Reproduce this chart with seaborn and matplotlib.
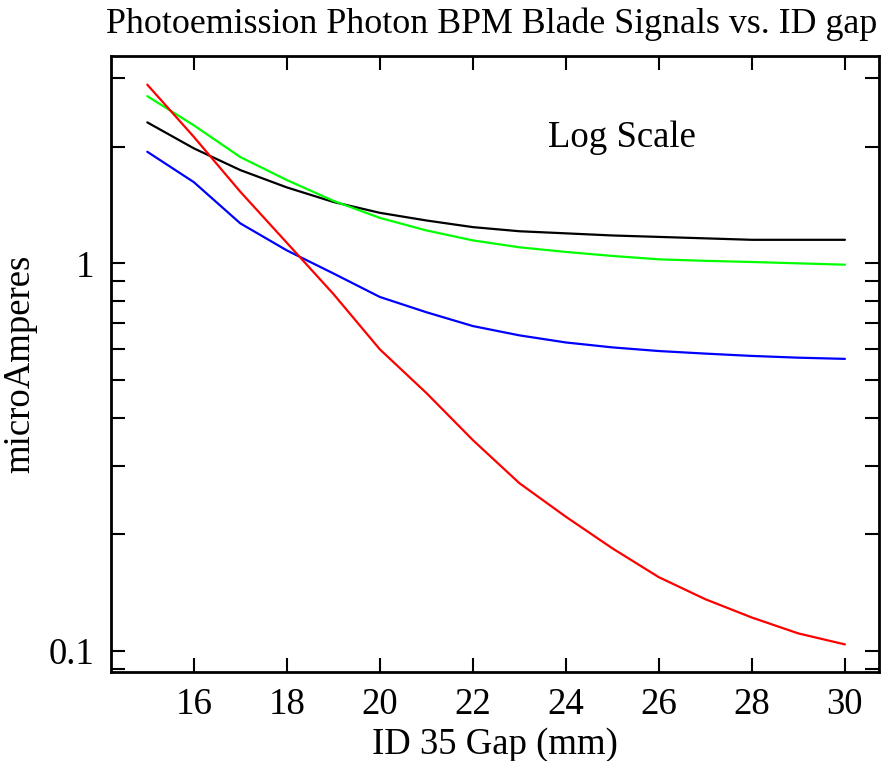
import pandas as pd
import seaborn as sns
import matplotlib.pyplot as plt
from matplotlib.ticker import LogLocator, FixedLocator, NullFormatter

# ID gap values (mm)
gap = [15, 16, 17, 18, 19, 20, 21, 22, 23, 24, 25, 26, 27, 28, 29, 30]

# blade signals (microAmperes)
black = [2.31, 1.98, 1.74, 1.57, 1.44, 1.35, 1.29, 1.24, 1.21, 1.195, 1.18, 1.17, 1.16, 1.15, 1.15, 1.15]
green = [2.70, 2.27, 1.88, 1.64, 1.45, 1.31, 1.216, 1.146, 1.10, 1.07, 1.045, 1.024, 1.015, 1.008, 1.0, 0.992]
blue = [1.94, 1.62, 1.268, 1.08, 0.942, 0.819, 0.748, 0.689, 0.652, 0.625, 0.607, 0.594, 0.585, 0.577, 0.571, 0.567]
red = [2.89, 2.12, 1.53, 1.13, 0.834, 0.60, 0.463, 0.35, 0.271, 0.222, 0.184, 0.155, 0.136, 0.122, 0.111, 0.104]

blades = {"black": black, "green": green, "blue": blue, "red": red}
colors = {"black": "#000000", "green": "#00ff00", "blue": "#0000ff", "red": "#ff0000"}

rows = []
for name, vals in blades.items():
    for g, v in zip(gap, vals):
        rows.append({"gap": g, "signal": v, "blade": name})
df = pd.DataFrame(rows)

sns.set_style("ticks")
plt.rcParams["font.family"] = ["Liberation Serif", "DejaVu Serif"]
plt.rcParams["text.color"] = "black"
plt.rcParams["axes.labelcolor"] = "black"
plt.rcParams["xtick.color"] = "black"
plt.rcParams["ytick.color"] = "black"
plt.rcParams["axes.edgecolor"] = "black"

fs = 26.5

fig = plt.figure(figsize=(8.96, 7.61), dpi=100)
ax = fig.add_axes([0.1239, 0.117, 0.857, 0.809])

sns.lineplot(data=df, x="gap", y="signal", hue="blade", palette=colors,
             linewidth=1.6, legend=False, ax=ax)

ax.set_yscale("log")
ax.set_xlim(14.22, 30.73)
ax.set_ylim(0.0883, 3.42)

ax.set_xticks([16, 18, 20, 22, 24, 26, 28, 30])
ax.yaxis.set_major_locator(FixedLocator([0.1, 1]))
ax.yaxis.set_major_formatter(plt.FixedFormatter(["0.1", "1"]))
ax.yaxis.set_minor_locator(LogLocator(base=10, subs=range(2, 10)))
ax.yaxis.set_minor_formatter(NullFormatter())

ax.tick_params(axis="x", which="major", direction="in", length=10, width=1.5,
               top=True, labelsize=fs, pad=11)
ax.tick_params(axis="y", which="major", direction="in", length=10, width=1.5,
               right=True, labelsize=fs, pad=12)
ax.tick_params(axis="y", which="minor", direction="in", length=10, width=1.5, right=True)
for s in ax.spines.values():
    s.set_linewidth(2)
    s.set_visible(True)

ax.set_xlabel("ID 35 Gap (mm)", fontsize=fs, labelpad=4)
ax.set_ylabel("microAmperes", fontsize=fs, labelpad=8)
ax.text(0.665, 0.868, "Log Scale", transform=ax.transAxes, fontsize=fs,
        ha="center", va="center")
fig.text(106 / 896, 1 - 33 / 761, "Photoemission Photon BPM Blade Signals vs. ID gap",
         fontsize=25.8, ha="left", va="baseline")

fig.savefig("out.png", dpi=100)
